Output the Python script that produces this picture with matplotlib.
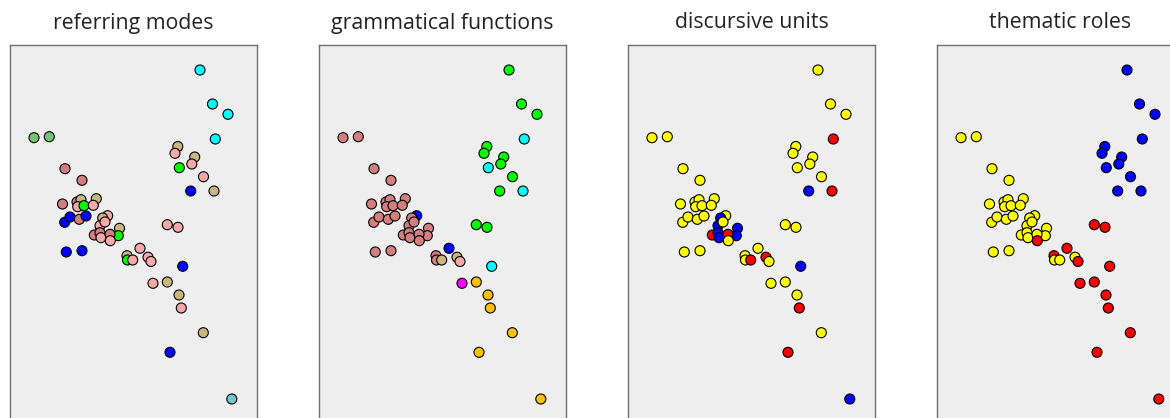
import matplotlib
matplotlib.use("Agg")
import matplotlib.pyplot as plt

# Shared point coordinates (read in the first panel's frame; y grows downward)
xs = [200, 212.5, 228, 215.3, 34, 49.3, 177.8, 175, 194.7, 191.8, 179.3, 203.5, 190.7, 214,
      65, 82, 167.3, 178, 66.3, 82, 127, 127.5, 132.7, 140, 148, 151, 182.7, 153, 167.3,
      179, 181.3, 203.3, 170, 231.8,
      62.5, 77, 81, 77.7, 84, 96.3, 93.3, 64.7, 70, 79.3, 86, 107.7, 102.7, 100, 119.5,
      118.3, 94.3, 100, 101, 110, 110.3, 105]
ys = [70, 104, 114.3, 139, 137.7, 136.7, 146.5, 153.3, 157, 164, 167.7, 176.7, 191, 191,
      168.7, 180.3, 224.7, 227.3, 252, 250.7, 255.7, 260, 260, 248.3, 257.2, 261.5, 266.3,
      283.3, 282, 295, 308, 332.7, 352.3, 399,
      204, 202, 199.7, 206.7, 205.7, 198.7, 205.3, 222.3, 217, 219.3, 216, 215.7, 218,
      225.7, 228.3, 235.7, 235, 232.7, 237.7, 234.3, 240.7, 222]

titles = ["referring modes", "grammatical functions", "discursive units", "thematic roles"]

referring_modes = ["cyan", "cyan", "cyan", "cyan", "lgreen", "lgreen", "tan", "pink", "tan", "pink",
                   "green", "pink", "blue", "tan", "rosy", "rosy", "pink", "pink", "blue", "blue",
                   "tan", "green", "pink", "pink", "pink", "pink", "blue", "pink", "tan", "tan",
                   "pink", "tan", "blue", "teal",
                   "rosy", "rosy", "tan", "pink", "green", "tan", "pink", "blue", "blue", "rosy",
                   "blue", "pink", "tan", "pink", "tan", "green", "rosy", "rosy", "pink", "rosy",
                   "pink", "pink"]
grammatical_functions = ["green", "green", "green", "cyan", "rosy", "rosy", "green", "green", "green",
                         "green", "cyan", "green", "green", "cyan", "rosy", "rosy", "green", "green",
                         "rosy", "rosy", "rosy", "rosy", "tan", "blue", "tan", "pink", "cyan",
                         "magenta", "orange", "orange", "orange", "orange", "orange", "orange",
                         "rosy", "rosy", "rosy", "rosy", "rosy", "rosy", "rosy", "rosy", "rosy",
                         "rosy", "rosy", "blue", "rosy", "rosy", "rosy", "rosy", "rosy", "rosy",
                         "rosy", "rosy", "rosy", "rosy"]
discursive_units = ["yellow", "yellow", "yellow", "red", "yellow", "yellow", "yellow", "yellow",
                    "yellow", "yellow", "yellow", "yellow", "blue", "red", "yellow", "yellow",
                    "yellow", "yellow", "yellow", "yellow", "yellow", "yellow", "red", "yellow",
                    "red", "yellow", "blue", "yellow", "yellow", "yellow", "red", "yellow", "red",
                    "blue",
                    "yellow", "yellow", "yellow", "yellow", "yellow", "yellow", "yellow", "yellow",
                    "yellow", "yellow", "yellow", "yellow", "blue", "blue", "blue", "blue", "red",
                    "blue", "blue", "red", "yellow", "yellow"]
thematic_roles = ["blue", "blue", "blue", "blue", "yellow", "yellow", "blue", "blue", "blue", "blue",
                  "blue", "blue", "blue", "blue", "yellow", "yellow", "red", "red", "yellow",
                  "yellow", "red", "yellow", "yellow", "red", "yellow", "red", "red", "red", "red",
                  "red", "red", "red", "red", "red",
                  "yellow", "yellow", "yellow", "yellow", "yellow", "yellow", "yellow", "yellow",
                  "yellow", "yellow", "yellow", "yellow", "yellow", "yellow", "yellow", "yellow",
                  "yellow", "yellow", "yellow", "yellow", "red", "yellow"]

palette = {
    "cyan": "#00ffff", "lgreen": "#74c474", "tan": "#c9b77c", "pink": "#f7a8a8",
    "green": "#00ff00", "blue": "#0000ff", "rosy": "#d47f7f", "teal": "#74c8c8",
    "magenta": "#ff00ff", "orange": "#ffc000", "yellow": "#ffff00", "red": "#ff0000",
}

panels = [referring_modes, grammatical_functions, discursive_units, thematic_roles]

W, H = 1170, 418
fig = plt.figure(figsize=(W / 100, H / 100), dpi=100)
fig.patch.set_facecolor("white")

left0, pw, step = 10, 247, 309
top, bot = 45, 445
for i, (cats, title) in enumerate(zip(panels, titles)):
    L = left0 + step * i
    ax = fig.add_axes([L / W, (H - bot) / H, pw / W, (bot - top) / H])
    ax.set_facecolor("#eeeeee")
    cols = [palette[c] for c in cats]
    ax.scatter(xs, ys, s=52, c=cols, edgecolors="black", linewidths=0.8, zorder=3)
    ax.set_xlim(10, 10 + pw)
    ax.set_ylim(bot, top)
    ax.set_xticks([])
    ax.set_yticks([])
    for sp in ax.spines.values():
        sp.set_color("#707070")
        sp.set_linewidth(1.0)
    fig.text((L + pw / 2) / W, 1 - 23 / H, title, ha="center", va="center",
             fontsize=15.3, family=["Open Sans", "DejaVu Sans"], color="#222222")

fig.savefig("out.png", dpi=100)
